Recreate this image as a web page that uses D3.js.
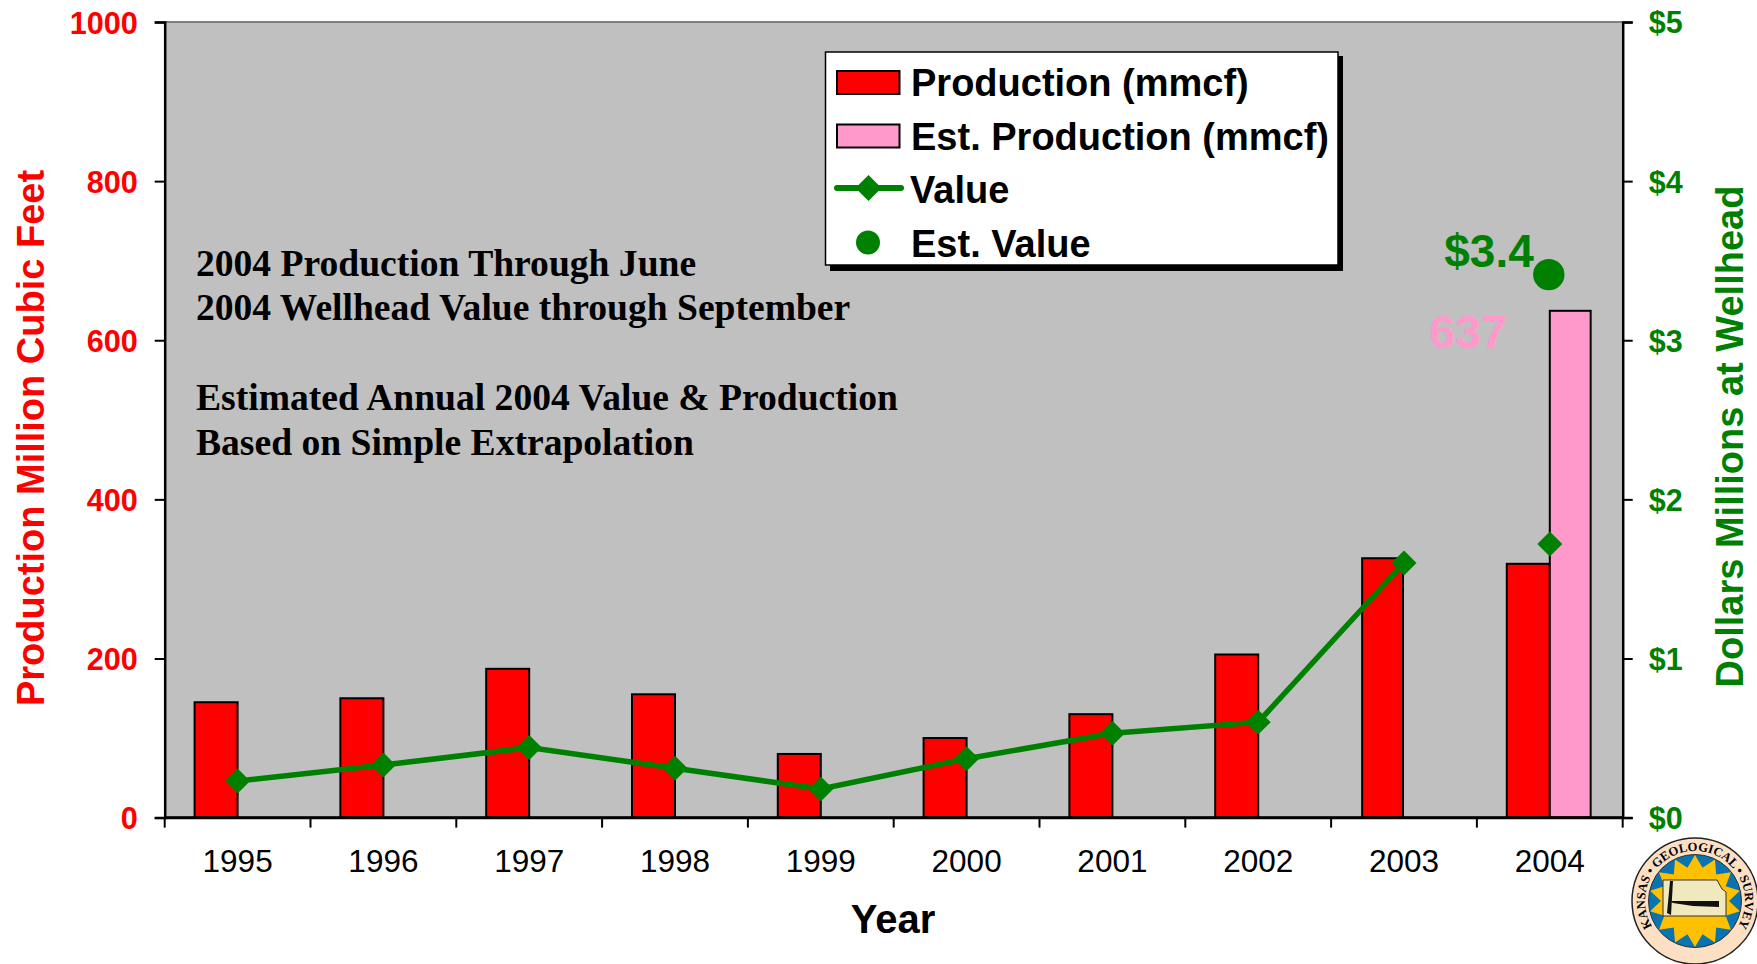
<!DOCTYPE html>
<html><head><meta charset="utf-8">
<script src="https://cdn.jsdelivr.net/npm/d3@7"></script>
<style>html,body{margin:0;padding:0;background:#fff;overflow:hidden}svg{display:block}text{font-family:"Liberation Sans",Arial,sans-serif}</style>
</head><body><svg id="c" width="1757" height="964"></svg>
<script>
const years=["1995","1996","1997","1998","1999","2000","2001","2002","2003","2004"];
const production=[145,150,187,155,80,100,130,205,326,319];
const estProduction=[null,null,null,null,null,null,null,null,null,637];
const value=[0.23,0.33,0.44,0.31,0.18,0.37,0.53,0.60,1.60,1.72];
const estValue=[null,null,null,null,null,null,null,null,null,3.4];
const leftTicks=[0,200,400,600,800,1000];
const rightTicks=[0,1,2,3,4,5];
const notes=["2004 Production Through June","2004 Wellhead Value through September","","Estimated Annual 2004 Value & Production","Based on Simple Extrapolation"];
const legendItems=["Production (mmcf)","Est. Production (mmcf)","Value","Est. Value"];

const RED="#ff0000",PINK="#ff99cc",GREEN="#008000",GREY="#c0c0c0";
const svg=d3.select("#c");
const L=164.7,R=1622.7,T=22,B=817.6;
const x=d3.scaleBand().domain(years).range([L,R]).padding(0);
const yL=d3.scaleLinear().domain([0,1000]).range([B,T]);
const yR=d3.scaleLinear().domain([0,5]).range([B,T]);
const bw=x.bandwidth()*0.295;
const cx=d=>x(d)+x.bandwidth()/2;

svg.append("rect").attr("x",L).attr("y",T).attr("width",R-L).attr("height",B-T).attr("fill",GREY);
svg.append("line").attr("x1",L).attr("x2",R).attr("y1",T).attr("y2",T).attr("stroke","#808080").attr("stroke-width",2);

// bars
const barStyle=s=>s.attr("stroke","#000").attr("stroke-width",2);
svg.append("g").selectAll("rect").data(years.map((y,i)=>({y,v:production[i]}))).join("rect")
 .attr("x",d=>d.y==="2003"?cx(d.y)-bw*0.95-1:cx(d.y)-bw)
 .attr("width",d=>d.y==="2003"?bw*0.95:bw)
 .attr("y",d=>yL(d.v)).attr("height",d=>B-yL(d.v)).attr("fill",RED).call(barStyle);
svg.append("g").selectAll("rect").data(years.map((y,i)=>({y,v:estProduction[i]})).filter(d=>d.v!=null)).join("rect")
 .attr("x",d=>cx(d.y)).attr("width",bw*0.95)
 .attr("y",d=>yL(d.v)).attr("height",d=>B-yL(d.v)).attr("fill",PINK).call(barStyle);

// axes
const ax=svg.append("g");
const axL=d3.axisLeft(yL).tickValues(leftTicks).tickFormat(d3.format("d")).tickSize(10).tickPadding(17);
const gL=ax.append("g").attr("transform",`translate(${L},0)`).call(axL);
gL.selectAll("text").attr("fill",RED).attr("font-size",30.6).attr("font-weight","bold").attr("dy","0.36em");
const axR=d3.axisRight(yR).tickValues(rightTicks).tickSize(10).tickPadding(16).tickFormat(d=>"$"+d);
const gR=ax.append("g").attr("transform",`translate(${R},0)`).call(axR);
gR.selectAll("text").attr("fill",GREEN).attr("font-size",30.5).attr("font-weight","bold").attr("dy","0.36em");
const axX=d3.axisBottom(x).tickSize(0).tickPadding(32.5);
const gX=ax.append("g").attr("transform",`translate(0,${B})`).call(axX);
gX.selectAll("text").attr("fill","#000").attr("font-size",31.5);
gX.selectAll(".bt").data(d3.range(years.length+1)).join("line").attr("class","bt")
 .attr("x1",i=>L+i*x.step()).attr("x2",i=>L+i*x.step()).attr("y1",0).attr("y2",10).attr("stroke","#000").attr("stroke-width",2);
ax.selectAll(".domain").attr("stroke","#000").attr("stroke-width",2.5);
ax.selectAll(".tick line").attr("stroke","#000").attr("stroke-width",2);
svg.append("line").attr("x1",L).attr("x2",R).attr("y1",B).attr("y2",B).attr("stroke","#000").attr("stroke-width",2.5);

// line
const line=d3.line().x((d,i)=>cx(years[i])).y(d=>yR(d));
svg.append("path").datum(value.slice(0,9)).attr("d",line).attr("fill","none").attr("stroke",GREEN).attr("stroke-width",5.5);
svg.append("g").selectAll("path").data(value).join("path")
 .attr("d",d3.symbol().type(d3.symbolSquare).size(312))
 .attr("transform",(d,i)=>`translate(${cx(years[i])},${yR(d)}) rotate(45)`).attr("fill",GREEN);
svg.append("g").selectAll("circle").data(estValue.map((v,i)=>({v,i})).filter(d=>d.v!=null)).join("circle")
 .attr("cx",d=>cx(years[d.i])-1).attr("cy",d=>yR(d.v)-2).attr("r",15.7).attr("fill",GREEN);

// data labels
svg.append("text").attr("x",1489).attr("y",267).attr("text-anchor","middle").attr("font-size",46).attr("font-weight","bold").attr("fill",GREEN).text("$"+estValue[9]);
svg.append("text").attr("x",1468).attr("y",348).attr("text-anchor","middle").attr("font-size",46.5).attr("font-weight","bold").attr("fill",PINK).text(estProduction[9]);

// axis titles
svg.append("text").attr("transform",`translate(43.5,438) rotate(-90)`).attr("text-anchor","middle").attr("font-size",38).attr("font-weight","bold").attr("fill",RED).text("Production Million Cubic Feet");
svg.append("text").attr("transform",`translate(1742.7,436.5) rotate(-90)`).attr("text-anchor","middle").attr("font-size",38).attr("font-weight","bold").attr("fill",GREEN).text("Dollars Millions at Wellhead");
svg.append("text").attr("x",893).attr("y",933).attr("text-anchor","middle").attr("font-size",40).attr("font-weight","bold").attr("fill","#000").text("Year");

// notes
svg.append("g").selectAll("text").data(notes).join("text")
 .attr("x",196).attr("y",(d,i)=>275.5+i*44.8).attr("font-size",37.6).attr("font-weight","bold").attr("fill","#000")
 .style("font-family","'Liberation Serif',serif").text(d=>d);

// legend
const lg=svg.append("g");
lg.append("rect").attr("x",830).attr("y",56).attr("width",513).attr("height",215).attr("fill","#000");
lg.append("rect").attr("x",825.5).attr("y",52).attr("width",512.5).attr("height",213).attr("fill","#fff").attr("stroke","#000").attr("stroke-width",1.5);
const baselines=[95.5,149.5,202.5,256.5];
lg.selectAll(".t").data(legendItems).join("text").attr("class","t").attr("x",(d,i)=>i===2?910:911).attr("y",(d,i)=>baselines[i])
 .attr("font-size",38).attr("font-weight","bold").attr("fill","#000").text(d=>d);
[RED,PINK].forEach((c,i)=>lg.append("rect").attr("x",837).attr("y",71+i*53.5).attr("width",62.5).attr("height",23).attr("fill",c).attr("stroke","#000").attr("stroke-width",2));
lg.append("line").attr("x1",837).attr("x2",901).attr("y1",188).attr("y2",188).attr("stroke",GREEN).attr("stroke-width",6).attr("stroke-linecap","round");
lg.append("path").attr("d",d3.symbol().type(d3.symbolSquare).size(338)).attr("transform","translate(868.5,188) rotate(45)").attr("fill",GREEN);
lg.append("circle").attr("cx",868).attr("cy",242.5).attr("r",12).attr("fill",GREEN);

// Kansas Geological Survey seal
const s=svg.append("g").attr("transform","translate(1695,901)");
s.append("circle").attr("r",63).attr("fill","#fde0c4").attr("stroke","#222").attr("stroke-width",1.5);
s.append("circle").attr("r",46.5).attr("fill","#0a74b0").attr("stroke","#333").attr("stroke-width",1);
const star=d3.range(28).map(i=>{const a=i*Math.PI/14,r=i%2?34:46;return [r*Math.sin(a),-r*Math.cos(a)];});
s.append("polygon").attr("points",star.map(p=>p.join(",")).join(" ")).attr("fill","#ffc000");
s.append("path").attr("d","M-32,-21L22,-21L27,-12L31,-9L31,15L-32,15Z").attr("fill","#f0e9bd").attr("stroke","#333").attr("stroke-width",1);
s.append("path").attr("d","M-25,0L24,0L24,6L-2,5L-22,2Z").attr("fill","#111");
s.append("path").attr("d","M-25,-20L-22,-20L-24,14L-28,12Z").attr("fill","#111");
const defs=svg.append("defs");
defs.append("path").attr("id","arcTop").attr("d","M-42,27A50,50 0 1 1 42,27");
s.append("text").style("font-family","'Liberation Serif',serif").attr("font-size",12.6).attr("font-weight","bold").attr("fill","#000")
 .append("textPath").attr("href","#arcTop").attr("startOffset","50%").attr("text-anchor","middle").text("KANSAS • GEOLOGICAL • SURVEY");
</script></body></html>
